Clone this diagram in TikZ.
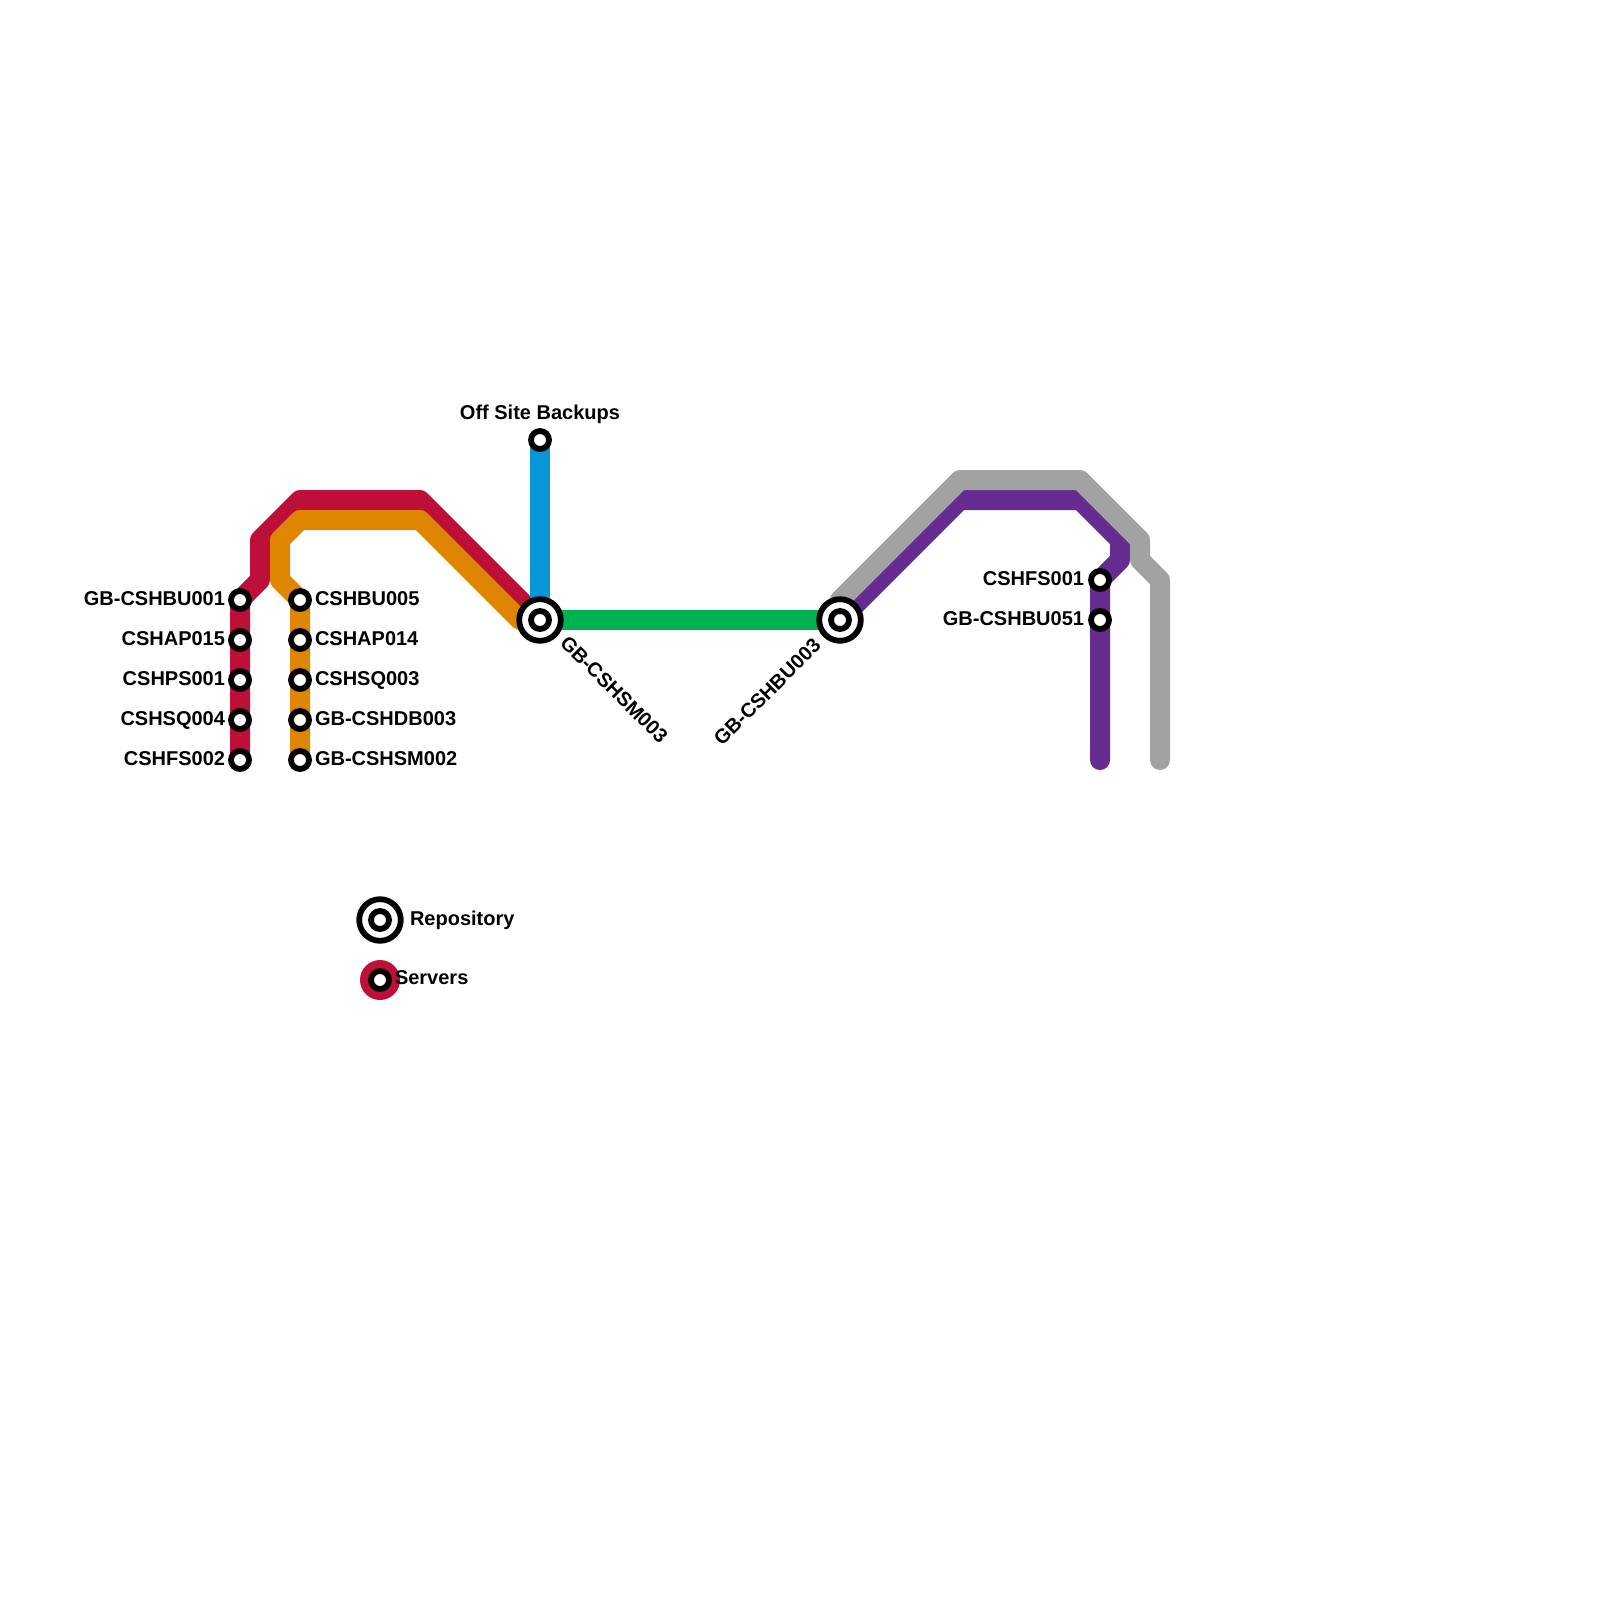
\documentclass[tikz,border=0pt]{standalone}
\usepackage{fontspec}
\setmainfont{Liberation Sans}
\usetikzlibrary{backgrounds}
\definecolor{linered}{HTML}{BD1038}
\definecolor{lineorange}{HTML}{DF8600}
\definecolor{lineblue}{HTML}{0896D7}
\definecolor{linegreen}{HTML}{00B251}
\definecolor{linepurple}{HTML}{662C90}
\definecolor{linegrey}{HTML}{A2A2A2}

\begin{document}
\begin{tikzpicture}[
        x=1pt, y=-1pt,
        station/.style={circle, draw=black, fill=white, line width=5.8pt,
            minimum size=18pt, inner sep=0pt, outer sep=0pt},
        repo/.style={circle, draw=black, fill=white, line width=5.8pt,
            minimum size=41.6pt, inner sep=0pt, outer sep=0pt},
        dot/.style={circle, fill=#1, minimum size=40pt, inner sep=0pt, outer sep=0pt},
        lbl/.style={font=\fontsize{20}{24}\selectfont\bfseries, inner sep=0pt, outer sep=0pt},
        lblleft/.style={lbl, anchor=base east},
        lblright/.style={lbl, anchor=base west},
        metro/.style={draw=#1, line width=20pt, line cap=round, line join=round},
    ]
    \useasboundingbox (0,0) rectangle (1600,1600);

    % =============================================
    % REPOSITORIES
    % =============================================
    \node[repo]    (repoa)  at (540, 620) {};
    \node[station] (stnsm)  at (540, 620) {};
    \node[repo]    (repob)  at (840, 620) {};
    \node[station] (stnbu)  at (840, 620) {};
    \node[lbl, rotate=-45, anchor=base west] (lblsm) at (559, 644) {GB-CSHSM003};
    \node[lbl, rotate=45, anchor=base east]  (lblbu) at (822, 647) {GB-CSHBU003};

    % =============================================
    % RED SERVERS
    % =============================================
    \node[station] (bu001) at (240, 600) {};
    \node[station] (ap015) at (240, 640) {};
    \node[station] (ps001) at (240, 680) {};
    \node[station] (sq004) at (240, 720) {};
    \node[station] (fs002) at (240, 760) {};

    \node[lblleft] (lblbu001) at (225, 605) {GB-CSHBU001};
    \node[lblleft] (lblap015) at (225, 645) {CSHAP015};
    \node[lblleft] (lblps001) at (225, 685) {CSHPS001};
    \node[lblleft] (lblsq004) at (225, 725) {CSHSQ004};
    \node[lblleft] (lblfs002) at (225, 765) {CSHFS002};

    % =============================================
    % ORANGE SERVERS
    % =============================================
    \node[station] (bu005) at (300, 600) {};
    \node[station] (ap014) at (300, 640) {};
    \node[station] (sq003) at (300, 680) {};
    \node[station] (db003) at (300, 720) {};
    \node[station] (sm002) at (300, 760) {};

    \node[lblright] (lblbu005) at (315, 605) {CSHBU005};
    \node[lblright] (lblap014) at (315, 645) {CSHAP014};
    \node[lblright] (lblsq003) at (315, 685) {CSHSQ003};
    \node[lblright] (lbldb003) at (315, 725) {GB-CSHDB003};
    \node[lblright] (lblsm002) at (315, 765) {GB-CSHSM002};

    % =============================================
    % OFF SITE + PURPLE SERVERS
    % =============================================
    \node[station] (offsite) at (540, 440) {};
    \node[lbl, anchor=base] (lbloffsite) at (540, 419) {Off Site Backups};

    \node[station] (fs001) at (1100, 580) {};
    \node[station] (bu051) at (1100, 620) {};
    \node[lblleft] (lblfs001) at (1084, 585) {CSHFS001};
    \node[lblleft] (lblbu051) at (1084, 625) {GB-CSHBU051};

    % Free ends of the grey and purple lines
    \coordinate (purpleend) at (1100, 760);
    \coordinate (greyend)   at (1160, 760);

    % Lines
    \begin{scope}[on background layer]
        \draw[metro=linered] (fs002.center) -- (bu001.center) -- (260, 580) -- (260, 540)
            -- (300, 500) -- (420, 500) -- (repoa.center);
        \draw[metro=lineorange] (sm002.center) -- (bu005.center) -- (280, 580) -- (280, 540)
            -- (300, 520) -- (420, 520) -- (520, 620) -- (repoa.center);
        \draw[metro=lineblue]  (offsite.center) -- (repoa.center);
        \draw[metro=linegreen] (repoa.center) -- (repob.center);
        \draw[metro=linepurple] (repob.center) -- (960, 500) -- (1080, 500) -- (1120, 540)
            -- (1120, 560) -- (fs001.center) -- (purpleend);
        \draw[metro=linegrey]  (repob.center) -- (840, 600) -- (960, 480) -- (1080, 480)
            -- (1140, 540) -- (1140, 560) -- (1160, 580) -- (greyend);
    \end{scope}

    % =============================================
    % LEGEND
    % =============================================
    \node[repo]    (keyrepo)    at (380, 920) {};
    \node[station] (keyrepostn) at (380, 920) {};
    \node[dot=linered] (keydot) at (380, 980) {};
    \node[station] (keystn)     at (380, 980) {};
    \node[lblright] (lblrepo)   at (410, 925) {Repository};
    \node[lblright] (lblserver) at (395, 984) {Servers};

\end{tikzpicture}
\end{document}
